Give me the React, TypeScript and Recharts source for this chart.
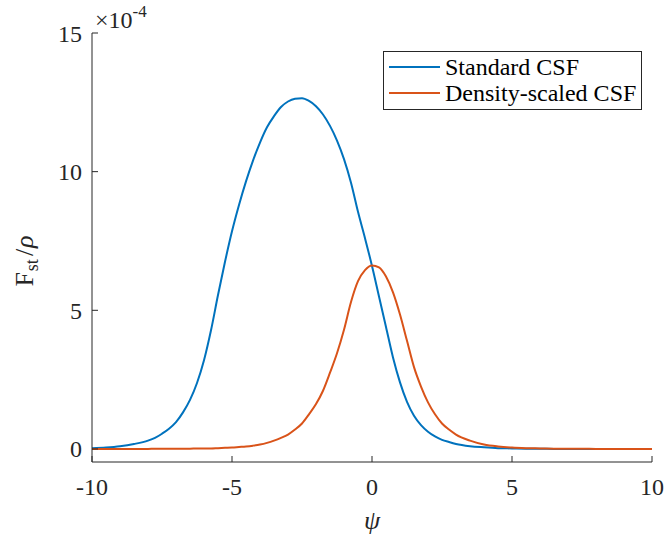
import { LineChart, Line, XAxis, YAxis, Legend } from 'recharts'

// values in units of 1e-4
const psi = [
  -10, -9.5, -9, -8.5, -8,
  -7.75, -7.5, -7.25, -7, -6.75, -6.5, -6.25, -6, -5.75, -5.5, -5.25, -5, -4.75, -4.5, -4.25, -4, -3.75, -3.5, -3.25, -3,
  -2.75, -2.5, -2.25, -2, -1.75, -1.5, -1.25, -1, -0.75, -0.5, -0.25, 0, 0.25, 0.5, 0.75, 1, 1.25, 1.5, 1.75, 2, 2.25, 2.5, 2.75, 3,
  3.5, 4, 4.5, 5, 5.5, 6, 6.5, 7, 7.5, 8, 8.5, 9, 9.5, 10,
]
const standardCsf = [
  0.03, 0.055, 0.1, 0.18, 0.3,
  0.4, 0.55, 0.73, 0.97, 1.32, 1.77, 2.38, 3.2, 4.28, 5.55, 6.75, 7.85, 8.8, 9.65, 10.4, 11.05, 11.6, 12.0, 12.33, 12.53,
  12.63, 12.65, 12.55, 12.36, 12.06, 11.65, 11.12, 10.45, 9.6, 8.55, 7.6, 6.6, 5.5, 4.4, 3.3, 2.4, 1.7, 1.2, 0.86, 0.62, 0.45, 0.33, 0.25, 0.18,
  0.1, 0.06, 0.03, 0.02, 0.01, 0.01, 0, 0, 0, 0, 0, 0, 0, 0,
]
const densityScaledCsf = [
  0, 0, 0, 0, 0,
  0.01, 0.01, 0.01, 0.01, 0.01, 0.01, 0.02, 0.02, 0.02, 0.03, 0.04, 0.05, 0.07, 0.09, 0.12, 0.16, 0.22, 0.3, 0.4, 0.52,
  0.7, 0.92, 1.25, 1.62, 2.1, 2.75, 3.45, 4.3, 5.3, 6.05, 6.45, 6.62, 6.55, 6.22, 5.65, 4.85, 3.9, 2.95, 2.25, 1.68, 1.25, 0.92, 0.7, 0.52,
  0.3, 0.16, 0.09, 0.05, 0.03, 0.02, 0.01, 0.01, 0.01, 0, 0, 0, 0, 0,
]
const seriesNames = ['Standard CSF', 'Density-scaled CSF']
const xTicks = [-10, -5, 0, 5, 10]
const yTicks = [0, 5, 10, 15]

const data = psi.map((p, i) => ({ psi: p, standard: standardCsf[i], density: densityScaledCsf[i] }))

const FONT = '"Liberation Serif", serif'
const INK = '#262626'

function LegendBox({ payload }: any) {
  const items = seriesNames
    .map(n => (payload || []).find((p: any) => p.value === n))
    .filter(Boolean)
  return (
    <div
      style={{
        border: `1px solid ${INK}`,
        background: '#fff',
        width: 259,
        height: 59,
        boxSizing: 'border-box',
        padding: '2px 0 0 5px',
        fontFamily: FONT,
        fontSize: 24,
        color: '#000',
        lineHeight: '26px',
      }}
    >
      {items.map((p: any) => (
        <div key={p.value} style={{ display: 'flex', alignItems: 'center', whiteSpace: 'nowrap' }}>
          <span style={{ display: 'inline-block', width: 51, height: 2, background: p.color, marginRight: 5 }} />
          {p.value}
        </div>
      ))}
    </div>
  )
}

export default function App() {
  return (
    <div style={{ position: 'absolute', left: 0, top: 0, width: 666, height: 541, background: '#fff' }}>
      <LineChart
        width={666}
        height={541}
        data={data}
        margin={{ top: 33, right: 14, bottom: 0, left: 32 }}
        style={{ fontFamily: FONT }}
      >
        <XAxis
          dataKey="psi"
          type="number"
          domain={[-10, 10]}
          ticks={xTicks}
          height={79}
          tickSize={-6}
          tickMargin={22}
          stroke={INK}
          tick={{ fill: INK, fontSize: 24 }}
          tickFormatter={(v: number) => String(v)}
          label={{ value: 'ψ', position: 'insideBottom', offset: 12, fill: INK, fontSize: 26, fontStyle: 'italic' }}
        />
        <XAxis
          xAxisId="top"
          orientation="top"
          dataKey="psi"
          type="number"
          domain={[-10, 10]}
          ticks={xTicks}
          height={0}
          tickSize={-6}
          stroke={INK}
          tickFormatter={() => ''}
        />
        <YAxis
          type="number"
          domain={[-0.47, 15]}
          ticks={yTicks}
          width={60}
          tickSize={-6}
          tickMargin={16}
          stroke={INK}
          tick={{ fill: INK, fontSize: 24 }}
        />
        <YAxis
          yAxisId="right"
          orientation="right"
          type="number"
          domain={[-0.47, 15]}
          ticks={yTicks}
          width={0}
          tickSize={-6}
          stroke={INK}
          tickFormatter={() => ''}
        />
        <Legend
          layout="horizontal"
          align="center"
          verticalAlign="middle"
          content={<LegendBox />}
          wrapperStyle={{ position: 'absolute', top: 51, left: 383, width: 259 }}
        />
        <Line
          name="Standard CSF"
          dataKey="standard"
          type="monotone"
          stroke="#0072BD"
          strokeWidth={2}
          dot={false}
          isAnimationActive={false}
        />
        <Line
          name="Density-scaled CSF"
          dataKey="density"
          type="monotone"
          stroke="#D95319"
          strokeWidth={2}
          dot={false}
          isAnimationActive={false}
        />
      </LineChart>
      <div
        style={{
          position: 'absolute',
          left: 95,
          top: 6,
          fontFamily: FONT,
          fontSize: 24,
          color: INK,
          whiteSpace: 'nowrap',
          lineHeight: '28px',
        }}
      >
        ×10<span style={{ fontSize: 17, position: 'relative', top: -11 }}>-4</span>
      </div>
      <div
        style={{
          position: 'absolute',
          left: 26,
          top: 261,
          transform: 'translate(-50%, -50%) rotate(-90deg)',
          fontFamily: FONT,
          fontSize: 26,
          color: INK,
          whiteSpace: 'nowrap',
          lineHeight: '30px',
        }}
      >
        F<span style={{ fontSize: 18, position: 'relative', top: 5, marginLeft: 1 }}>st</span>
        <span style={{ marginLeft: 3 }}>/</span>
        <i style={{ marginLeft: 1 }}>ρ</i>
      </div>
    </div>
  )
}
